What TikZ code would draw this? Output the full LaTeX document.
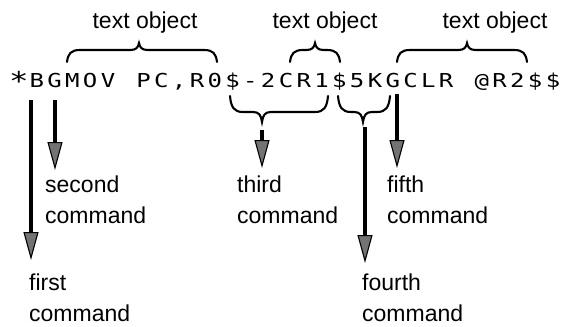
\documentclass[tikz,border=0pt]{standalone}
\usepackage{fontspec}
\setmainfont{Liberation Sans}
\newfontfamily\lcdfont{DejaVu Sans Mono}
\usetikzlibrary{arrows.meta}
\newcommand{\hbrace}[6]{% x1, xtip, x2, yend, yflat, ytip
  \draw[bracestyle] (#1,#4) .. controls ({#1+1},{#5+0.3*(#4-#5)}) and ({#1+4},#5) .. ({#1+13},#5)
    -- ({#2-9},#5) .. controls ({#2-3},#5) and ({#2-1},{#5+0.3*(#6-#5)}) .. (#2,#6)
    .. controls ({#2+1},{#5+0.3*(#6-#5)}) and ({#2+3},#5) .. ({#2+9},#5)
    -- ({#3-13},#5) .. controls ({#3-4},#5) and ({#3-1},{#5+0.3*(#4-#5)}) .. (#3,#4);}
\newcommand{\bigast}{\raisebox{-2.5pt}{\scalebox{1.35}{*}}}
\begin{document}
\begin{tikzpicture}[x=1pt,y=-1pt,
  lbl/.style={font=\fontsize{23}{31}\selectfont, inner sep=0pt},
  cmdlbl/.style={lbl, anchor=base west},
  chr/.style={font=\lcdfont\fontsize{19.2}{20}\selectfont, inner sep=0pt, anchor=base},
  bracestyle/.style={line width=2.1pt, line cap=round},
  pointer/.style={line width=3.2pt, -{Triangle[length=28pt,width=15pt,line width=1.1pt,fill=black!55]}}]
\useasboundingbox (0,0) rectangle (561,326);

% command string
\node[chr] (c0) at (19,88) {\scalebox{1.25}[1]{\bigast}};
\foreach \i/\ch in {1/B,2/G,3/M,4/O,5/V,7/P,8/C,9/{,},10/R,11/0,12/\$,13/-,14/2,15/C,16/R,17/1,18/\$,19/5,20/K,21/G,22/C,23/L,24/R,26/@,27/R,28/2,29/\$,30/\$}
  \node[chr] (c\i) at ({19+17.8*\i},88) {\scalebox{1.25}[1]{\ch}};

% top labels
\node[lbl, anchor=base] (t1) at (145,29) {text object};
\node[lbl, anchor=base] (t2) at (325,29) {text object};
\node[lbl, anchor=base] (t3) at (495,29) {text object};

% top braces
\hbrace{67}{139}{217}{62}{50}{43}
\hbrace{290}{315}{340}{62}{50}{43}
\hbrace{397}{467}{527}{62}{50}{43}

% bottom braces
\hbrace{230}{262}{328}{96}{112}{122}
\hbrace{338}{363}{390}{96}{112}{122}

% command labels
\node[cmdlbl] (l1) at (29,290) {\begin{tabular}[t]{@{}l@{}}first\\command\end{tabular}};
\node[cmdlbl] (l2) at (45,192) {\begin{tabular}[t]{@{}l@{}}second\\command\end{tabular}};
\node[cmdlbl] (l3) at (237,192) {\begin{tabular}[t]{@{}l@{}}third\\command\end{tabular}};
\node[cmdlbl] (l4) at (362,290) {\begin{tabular}[t]{@{}l@{}}fourth\\command\end{tabular}};
\node[cmdlbl] (l5) at (387,192) {\begin{tabular}[t]{@{}l@{}}fifth\\command\end{tabular}};

% pointer ends
\coordinate (s1) at (31,100);  \coordinate (e1) at (31,260);
\coordinate (s2) at (55,100);  \coordinate (e2) at (55,170);
\coordinate (s3) at (262,130); \coordinate (e3) at (262,168);
\coordinate (s4) at (365,127); \coordinate (e4) at (365,263);
\coordinate (s5) at (397,94);  \coordinate (e5) at (397,168);

\foreach \k in {1,...,5} \draw[pointer] (s\k) -- (e\k);
\end{tikzpicture}
\end{document}
